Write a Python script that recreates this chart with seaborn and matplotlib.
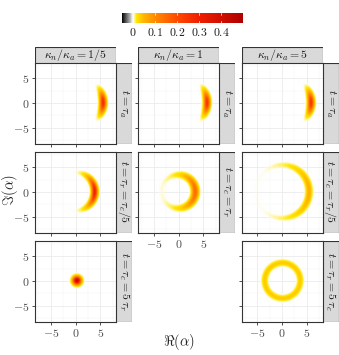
import numpy as np
import matplotlib
matplotlib.use("Agg")
import matplotlib.pyplot as plt
import seaborn as sns
from matplotlib.colors import LinearSegmentedColormap, Normalize
from matplotlib.cm import ScalarMappable
from matplotlib.patches import Rectangle

# ------------------------------------------------------------
# Data
# ------------------------------------------------------------
col_labels = [r"$\kappa_n/\kappa_a = 1/5$", r"$\kappa_n/\kappa_a = 1$", r"$\kappa_n/\kappa_a = 5$"]
panel_rows = [0, 0, 0, 1, 1, 1, 2, 2]
panel_cols = [0, 1, 2, 0, 1, 2, 0, 2]
strip_labels = [
    r"$t = \tau_a$", r"$t = \tau_a$", r"$t = \tau_a$",
    r"$t = \tau_r = \tau_c/5$", r"$t = \tau_c = \tau_r$", r"$t = \tau_c = \tau_r/5$",
    r"$t = \tau_c = 5\,\tau_r$", r"$t = \tau_r = 5\,\tau_c$",
]
# ring shape of each distribution: radius, radial spread, phase concentration, peak
ring_radius = [5.6, 5.8, 5.8, 3.9, 3.4, 5.4, 0.0, 3.6]
ring_width = [0.38, 0.38, 0.38, 0.36, 0.42, 0.4, 0.5, 0.38]
phase_conc = [18.0, 18.0, 18.0, 4.5, 1.8, 1.7, 0.0, 0.0]
peak_height = [0.27, 0.25, 0.25, 0.3, 0.15, 0.06, 0.45, 0.035]
centre_x = [0.0, 0.0, 0.0, 0.0, 0.0, 0.0, 0.3, 0.0]

ticks = [-5, 0, 5]
minor_ticks = [-7.5, -2.5, 2.5, 7.5]
cbar_ticks = [0, 0.1, 0.2, 0.3, 0.4]
lim = 8.2

# ------------------------------------------------------------
# Style
# ------------------------------------------------------------
sns.set_theme(style="white")
plt.rcParams["font.family"] = ["DejaVu Serif"]
plt.rcParams["mathtext.fontset"] = "cm"

cmap = LinearSegmentedColormap.from_list(
    "wig",
    [(0.0, "black"), (0.05 / 0.55, "white"), (0.065 / 0.55, "#FFE600"),
     (0.1 / 0.55, "#FFB400"), (0.15 / 0.55, "#FF8A00"), (0.25 / 0.55, "#FF4A00"),
     (0.35 / 0.55, "#F01E00"), (1.0, "#B00000")],
)
norm = Normalize(vmin=-0.05, vmax=0.5)

W, H = 339, 355
fig = plt.figure(figsize=(W / 100, H / 100), dpi=100)


def px_axes(x0, y0, x1, y1):
    return fig.add_axes([x0 / W, 1 - y1 / H, (x1 - x0) / W, (y1 - y0) / H])


col_x = [35, 138, 241.5]
row_y = [62.5, 151.5, 240.5]
pw, ph, sw, sh = 81, 81, 16, 15.5

grid = np.linspace(-lim, lim, 300)
X, Y = np.meshgrid(grid, grid)

for i in range(len(panel_rows)):
    r, c = panel_rows[i], panel_cols[i]
    x0, y0 = col_x[c], row_y[r]
    ax = px_axes(x0, y0, x0 + pw, y0 + ph)

    rad = np.hypot(X - centre_x[i], Y)
    phi = np.arctan2(Y, X - centre_x[i])
    z = peak_height[i] * np.exp(-(rad - ring_radius[i]) ** 2 / (2 * ring_width[i] ** 2))
    z = z * np.exp(phase_conc[i] * (np.cos(phi) - 1))
    rgba = cmap(norm(z))
    rgba[..., 3] = np.clip(z / 0.006, 0, 1)

    ax.set_xticks(ticks)
    ax.set_yticks(ticks)
    ax.set_xticks(minor_ticks, minor=True)
    ax.set_yticks(minor_ticks, minor=True)
    ax.grid(True, which="major", color="#EBEBEB", linewidth=0.6)
    ax.grid(True, which="minor", color="#F2F2F2", linewidth=0.3)
    ax.set_axisbelow(True)
    ax.imshow(rgba, extent=(-lim, lim, -lim, lim), origin="lower",
              interpolation="bilinear", aspect="auto", zorder=2)
    ax.set_xlim(-lim, lim)
    ax.set_ylim(-lim, lim)
    for s in ax.spines.values():
        s.set_color("#333333")
        s.set_linewidth(0.8)
    ax.tick_params(which="major", length=2.5, width=0.6, color="#333333",
                   labelsize=8.5, labelcolor="#4D4D4D", pad=1.5,
                   bottom=True, left=True)
    ax.tick_params(which="minor", length=0)

    has_below = (r + 1, c) in list(zip(panel_rows, panel_cols))
    if has_below:
        ax.set_xticklabels([])
    else:
        ax.set_xticklabels([f"${t}$" for t in ticks])
    if c == 0:
        ax.set_yticklabels([f"${t}$" for t in ticks])
    else:
        ax.set_yticklabels([])

    # right strip
    sax = px_axes(x0 + pw, y0, x0 + pw + sw, y0 + ph)
    sax.add_patch(Rectangle((0, 0), 1, 1, facecolor="#D9D9D9", edgecolor="#333333",
                            linewidth=0.8, transform=sax.transAxes))
    sax.text(0.5, 0.5, strip_labels[i], rotation=-90, ha="center", va="center",
             fontsize=8.5, color="#1A1A1A", transform=sax.transAxes)
    sax.set_axis_off()

    # top strip
    if r == 0:
        tax = px_axes(x0, y0 - sh, x0 + pw, y0)
        tax.add_patch(Rectangle((0, 0), 1, 1, facecolor="#D9D9D9", edgecolor="#333333",
                                linewidth=0.8, transform=tax.transAxes))
        tax.text(0.5, 0.5, col_labels[c], ha="center", va="center",
                 fontsize=8.5, color="#1A1A1A", transform=tax.transAxes)
        tax.set_axis_off()

# axis titles
fig.text(10 / W, 1 - 190 / H, r"$\Im(\alpha)$", rotation=90, ha="center", va="center", fontsize=10.5)
fig.text(179 / W, 1 - 342 / H, r"$\Re(\alpha)$", ha="center", va="center", fontsize=10.5)

# colour bar
cax = px_axes(122, 13, 243, 23)
cb = fig.colorbar(ScalarMappable(norm=norm, cmap=cmap), cax=cax, orientation="horizontal")
cb.outline.set_visible(False)
cb.set_ticks(cbar_ticks)
cb.set_ticklabels([f"${t:g}$" for t in cbar_ticks])
cax.tick_params(length=0, labelsize=8.5, pad=2, labelcolor="#1A1A1A")
for t in cbar_ticks:
    cax.plot([t, t], [0, 0.2], color="white", linewidth=0.5)
    cax.plot([t, t], [0.8, 1], color="white", linewidth=0.5)

fig.savefig("out.png", dpi=100)
